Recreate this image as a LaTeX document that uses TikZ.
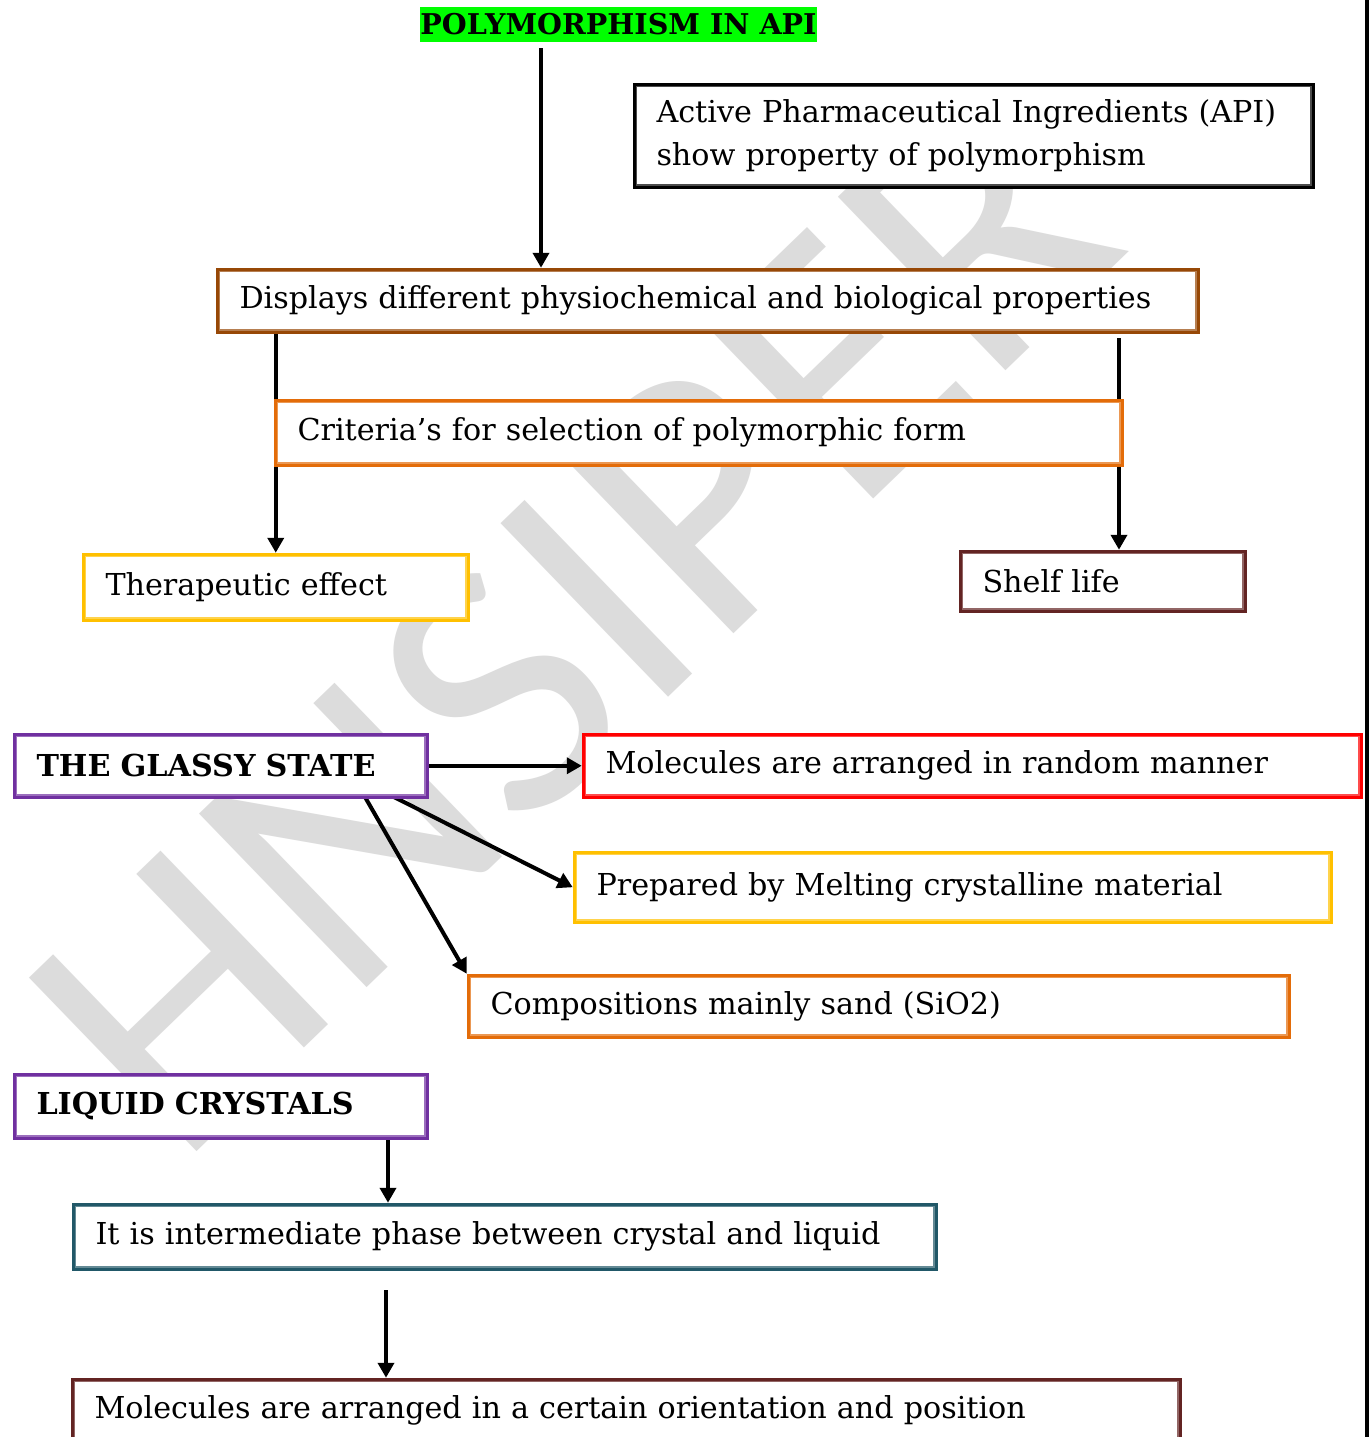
\documentclass[tikz,border=0pt]{standalone}
\usepackage{fontspec}
\setmainfont{DejaVu Serif}
\newfontfamily\wmfont{Carlito}
\usetikzlibrary{arrows.meta}

\definecolor{brownA}{HTML}{974806}
\definecolor{orangeA}{HTML}{E36C09}
\definecolor{goldA}{HTML}{FFC000}
\definecolor{maroonA}{HTML}{632423}
\definecolor{purpleA}{HTML}{7030A0}
\definecolor{tealA}{HTML}{215868}
\definecolor{redA}{HTML}{FF0000}
\definecolor{wmgray}{HTML}{DCDCDC}
\definecolor{hlgreen}{HTML}{00FF00}

\pgfdeclarelayer{wm}
\pgfdeclarelayer{links}
\pgfsetlayers{wm,links,main}

\newcommand{\bodyfont}{\fontsize{15.1}{21.5}\selectfont}

\tikzset{
  box/.style={draw=#1, fill=white, line width=1.75pt, rectangle,
    anchor=north west, inner xsep=11pt, inner ysep=0pt, align=left},
  arr/.style={line width=2pt, -{Triangle[width=8pt,length=7.5pt]}},
}

% framed text box (thick outer rule, thin inner rule):
% name, colour, x0, y0, x1, y1 (outer edges), font, text
\newcommand{\tbox}[8]{%
  \pgfmathsetmacro\bw{(#5-#3-3.5)*0.5}%
  \pgfmathsetmacro\bh{(#6-#4-3.5)*0.5}%
  \pgfmathsetmacro\tw{\bw-22}%
  \node[box=#2, minimum width=\bw pt, minimum height=\bh pt,
        text width=\tw pt, font=#7] (#1) at ({#3+1.75},{#4+1.75}) {#8};
  \draw[color=#2!70!white, line width=0.6pt]
    ([shift={(1.9pt,-1.9pt)}]#1.north west) rectangle
    ([shift={(-1.9pt,1.9pt)}]#1.south east);
}

\begin{document}
\begin{tikzpicture}[x=0.5pt, y=-0.5pt]
\useasboundingbox (0,0) rectangle (1369,1437);
\clip (0,0) rectangle (1369,1437);

% page and watermark
\begin{pgfonlayer}{wm}
\fill[white] (0,0) rectangle (1369,1437);
\node[rotate=44, text=wmgray, inner sep=0pt,
      font=\wmfont\fontsize{188}{188}\selectfont] (wmark) at (572,622) {HNSIPER};
\end{pgfonlayer}

% right page rule
\fill[black] (1365,0) rectangle (1369,1437);

% title
\node[fill=hlgreen, minimum width=198.5pt, minimum height=17.5pt, inner sep=0pt,
      font=\fontsize{14.3}{18}\selectfont\bfseries] (title) at (618.5,24.5) {POLYMORPHISM IN API};

% boxes
\tbox{api}{black}{631}{81}{1313}{187}{\bodyfont}{Active Pharmaceutical Ingredients (API)\\show property of polymorphism}
\tbox{disp}{brownA}{214}{266}{1198}{332}{\bodyfont}{Displays different physiochemical and biological properties}
\tbox{ther}{goldA}{80}{551}{468}{620}{\bodyfont}{Therapeutic effect}
\tbox{shelf}{maroonA}{957}{548}{1245}{611}{\bodyfont}{Shelf life}
\tbox{crit}{orangeA}{272}{397}{1122}{465}{\bodyfont}{Criteria’s for selection of polymorphic form}
\tbox{glassy}{purpleA}{11}{731}{427}{797}{\bodyfont\bfseries}{THE GLASSY STATE}
\tbox{mol}{redA}{580}{731}{1361}{797}{\bodyfont}{Molecules are arranged in random manner}
\tbox{prep}{goldA}{571}{849}{1331}{922}{\bodyfont}{Prepared by Melting crystalline material}
\tbox{comp}{orangeA}{465}{972}{1289}{1037}{\bodyfont}{Compositions mainly sand (SiO2)}
\tbox{liq}{purpleA}{11}{1071}{427}{1138}{\bodyfont\bfseries}{LIQUID CRYSTALS}
\tbox{inter}{tealA}{70}{1201}{936}{1269}{\bodyfont}{It is intermediate phase between crystal and liquid}
\tbox{last}{maroonA}{69}{1376}{1180}{1442}{\bodyfont}{Molecules are arranged in a certain orientation and position}

% connectors
\coordinate (t1) at (541,48);
\coordinate (r1) at (1119,338);
\coordinate (g1) at (394,797);
\coordinate (g2) at (365,797);
\coordinate (l1) at (388,1140);
\coordinate (i1) at (386,1290);
\begin{pgfonlayer}{links}
\draw[arr] (t1) -- (t1 |- disp.north);
\draw[arr] (disp.south -| ther.north) -- (ther.north);
\draw[arr] (r1) -- (r1 |- shelf.north);
\draw[arr] (glassy.east) -- (mol.west);
\draw[arr] (g1) -- (prep.west);
\draw[arr] (g2) -- (comp.north west);
\draw[arr] (l1) -- (l1 |- inter.north);
\draw[arr] (i1) -- (i1 |- last.north);
\end{pgfonlayer}
\end{tikzpicture}
\end{document}
